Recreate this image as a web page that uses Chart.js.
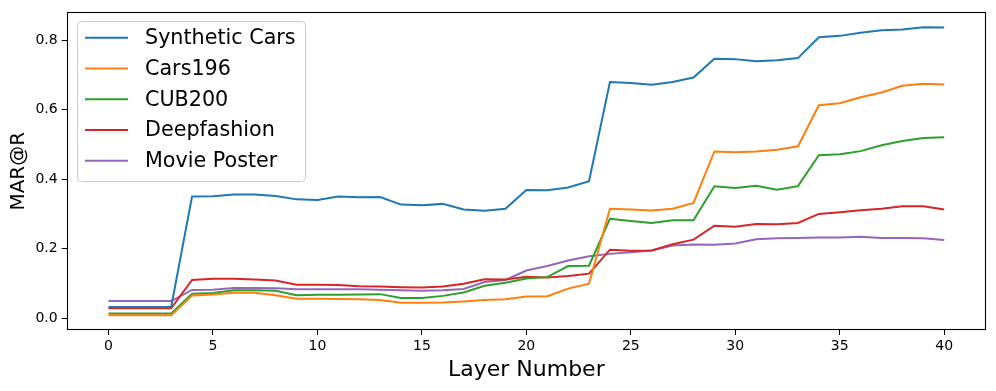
<!DOCTYPE html>
<html>
<head>
<meta charset="utf-8">
<script src="https://cdn.jsdelivr.net/npm/chart.js@4.4.1/dist/chart.umd.min.js"></script>
<style>
html,body{margin:0;padding:0;background:#fff;}
#wrap{width:996px;height:391px;position:relative;}
</style>
</head>
<body>
<div id="wrap"><canvas id="c" width="996" height="391"></canvas></div>
<script>
const layers = Array.from({length: 41}, (_, i) => i);
const seriesNames = ["Synthetic Cars", "Cars196", "CUB200", "Deepfashion", "Movie Poster"];
const seriesColors = ["#1f77b4", "#ff7f0e", "#2ca02c", "#d62728", "#9467bd"];
const syntheticCars = [0.032,0.032,0.032,0.032,0.350,0.351,0.356,0.356,0.352,0.342,0.340,0.350,0.348,0.349,0.327,0.325,0.329,0.313,0.309,0.315,0.369,0.368,0.376,0.394,0.680,0.677,0.672,0.680,0.693,0.747,0.746,0.740,0.743,0.749,0.809,0.813,0.822,0.829,0.831,0.838,0.837];
const cars196 = [0.008,0.008,0.008,0.008,0.065,0.068,0.073,0.073,0.066,0.056,0.056,0.055,0.054,0.052,0.044,0.044,0.045,0.048,0.052,0.054,0.062,0.063,0.085,0.099,0.315,0.313,0.310,0.315,0.332,0.480,0.478,0.480,0.485,0.495,0.613,0.619,0.636,0.650,0.669,0.675,0.673];
const cub200 = [0.013,0.013,0.013,0.013,0.070,0.072,0.080,0.080,0.079,0.066,0.067,0.067,0.068,0.069,0.058,0.058,0.064,0.074,0.093,0.102,0.114,0.118,0.150,0.151,0.286,0.280,0.274,0.282,0.282,0.380,0.375,0.381,0.370,0.380,0.469,0.472,0.481,0.498,0.510,0.519,0.521];
const deepfashion = [0.028,0.028,0.028,0.028,0.110,0.113,0.113,0.111,0.108,0.096,0.096,0.095,0.092,0.091,0.089,0.088,0.091,0.099,0.112,0.111,0.119,0.117,0.121,0.128,0.197,0.194,0.195,0.213,0.226,0.266,0.263,0.271,0.270,0.274,0.300,0.305,0.311,0.315,0.322,0.322,0.313];
const moviePoster = [0.049,0.049,0.049,0.049,0.081,0.082,0.087,0.087,0.086,0.083,0.083,0.083,0.083,0.082,0.080,0.079,0.080,0.084,0.104,0.110,0.137,0.150,0.166,0.178,0.185,0.190,0.195,0.209,0.212,0.211,0.215,0.227,0.230,0.231,0.232,0.232,0.234,0.231,0.231,0.230,0.225];
const xTicks = [0,5,10,15,20,25,30,35,40];
const yTicks = [0.0,0.2,0.4,0.6,0.8];
const xLabel = "Layer Number";
const yLabel = "MAR@R";

const allSeries = [syntheticCars, cars196, cub200, deepfashion, moviePoster];
const FONT = "'DejaVu Sans', sans-serif";

const frameAndLegend = {
  id: 'frameAndLegend',
  afterDatasetsDraw(chart) {
    const ctx = chart.ctx;
    const a = chart.chartArea;
    ctx.save();
    ctx.strokeStyle = '#000';
    ctx.lineWidth = 1.1;
    ctx.strokeRect(Math.round(a.left) + 0.5, Math.round(a.top) + 0.5, Math.round(a.right - a.left) - 1, Math.round(a.bottom - a.top) - 1);
    // legend
    const bx = 77.5, by = 21.5, bw = 228, bh = 160, r = 4;
    ctx.beginPath();
    ctx.moveTo(bx + r, by);
    ctx.lineTo(bx + bw - r, by);
    ctx.quadraticCurveTo(bx + bw, by, bx + bw, by + r);
    ctx.lineTo(bx + bw, by + bh - r);
    ctx.quadraticCurveTo(bx + bw, by + bh, bx + bw - r, by + bh);
    ctx.lineTo(bx + r, by + bh);
    ctx.quadraticCurveTo(bx, by + bh, bx, by + bh - r);
    ctx.lineTo(bx, by + r);
    ctx.quadraticCurveTo(bx, by, bx + r, by);
    ctx.closePath();
    ctx.fillStyle = 'rgba(255,255,255,0.8)';
    ctx.fill();
    ctx.strokeStyle = '#cccccc';
    ctx.lineWidth = 1;
    ctx.stroke();
    ctx.font = "20.7px " + FONT;
    ctx.textBaseline = 'middle';
    ctx.fillStyle = '#000';
    chart.data.datasets.forEach((ds, i) => {
      const y = 37.7 + i * 30.75;
      ctx.strokeStyle = ds.borderColor;
      ctx.lineWidth = 2;
      ctx.beginPath();
      ctx.moveTo(85, y);
      ctx.lineTo(128, y);
      ctx.stroke();
      ctx.fillStyle = '#000';
      ctx.fillText(ds.label, 145, y + 1);
    });
    ctx.restore();
  }
};

new Chart(document.getElementById('c'), {
  type: 'line',
  data: {
    labels: layers,
    datasets: allSeries.map((vals, i) => ({
      label: seriesNames[i],
      data: vals.map((v, j) => ({x: layers[j], y: v})),
      borderColor: seriesColors[i],
      backgroundColor: seriesColors[i],
      borderWidth: 2,
      pointRadius: 0,
      tension: 0,
      fill: false
    }))
  },
  options: {
    responsive: false,
    animation: false,
    devicePixelRatio: 1,
    layout: {padding: {top: 10, right: 10, left: 7, bottom: 0}},
    plugins: {legend: {display: false}, tooltip: {enabled: false}},
    scales: {
      x: {
        type: 'linear',
        min: -2, max: 42,
        afterBuildTicks: s => { s.ticks = xTicks.map(v => ({value: v})); },
        afterFit: s => { s.height = 61; },
        grid: {drawOnChartArea: false, drawTicks: true, tickLength: 5, tickColor: '#000', tickWidth: 1},
        border: {display: false},
        ticks: {color: '#000', font: {family: FONT, size: 14}, padding: 3, maxRotation: 0, callback: v => String(v)},
        title: {display: true, text: xLabel, color: '#000', font: {family: FONT, size: 22}, padding: {top: 0, bottom: 8}}
      },
      y: {
        type: 'linear',
        min: -0.0343, max: 0.8806,
        afterBuildTicks: s => { s.ticks = yTicks.map(v => ({value: v})); },
        afterFit: s => { s.width = 59.7; },
        grid: {drawOnChartArea: false, drawTicks: true, tickLength: 5, tickColor: '#000', tickWidth: 1},
        border: {display: false},
        ticks: {color: '#000', font: {family: FONT, size: 14}, padding: 4, callback: v => Number(v).toFixed(1)},
        title: {display: true, text: yLabel, color: '#000', font: {family: FONT, size: 20}, padding: {top: 0, bottom: 0}}
      }
    }
  },
  plugins: [frameAndLegend]
});
</script>
</body>
</html>
